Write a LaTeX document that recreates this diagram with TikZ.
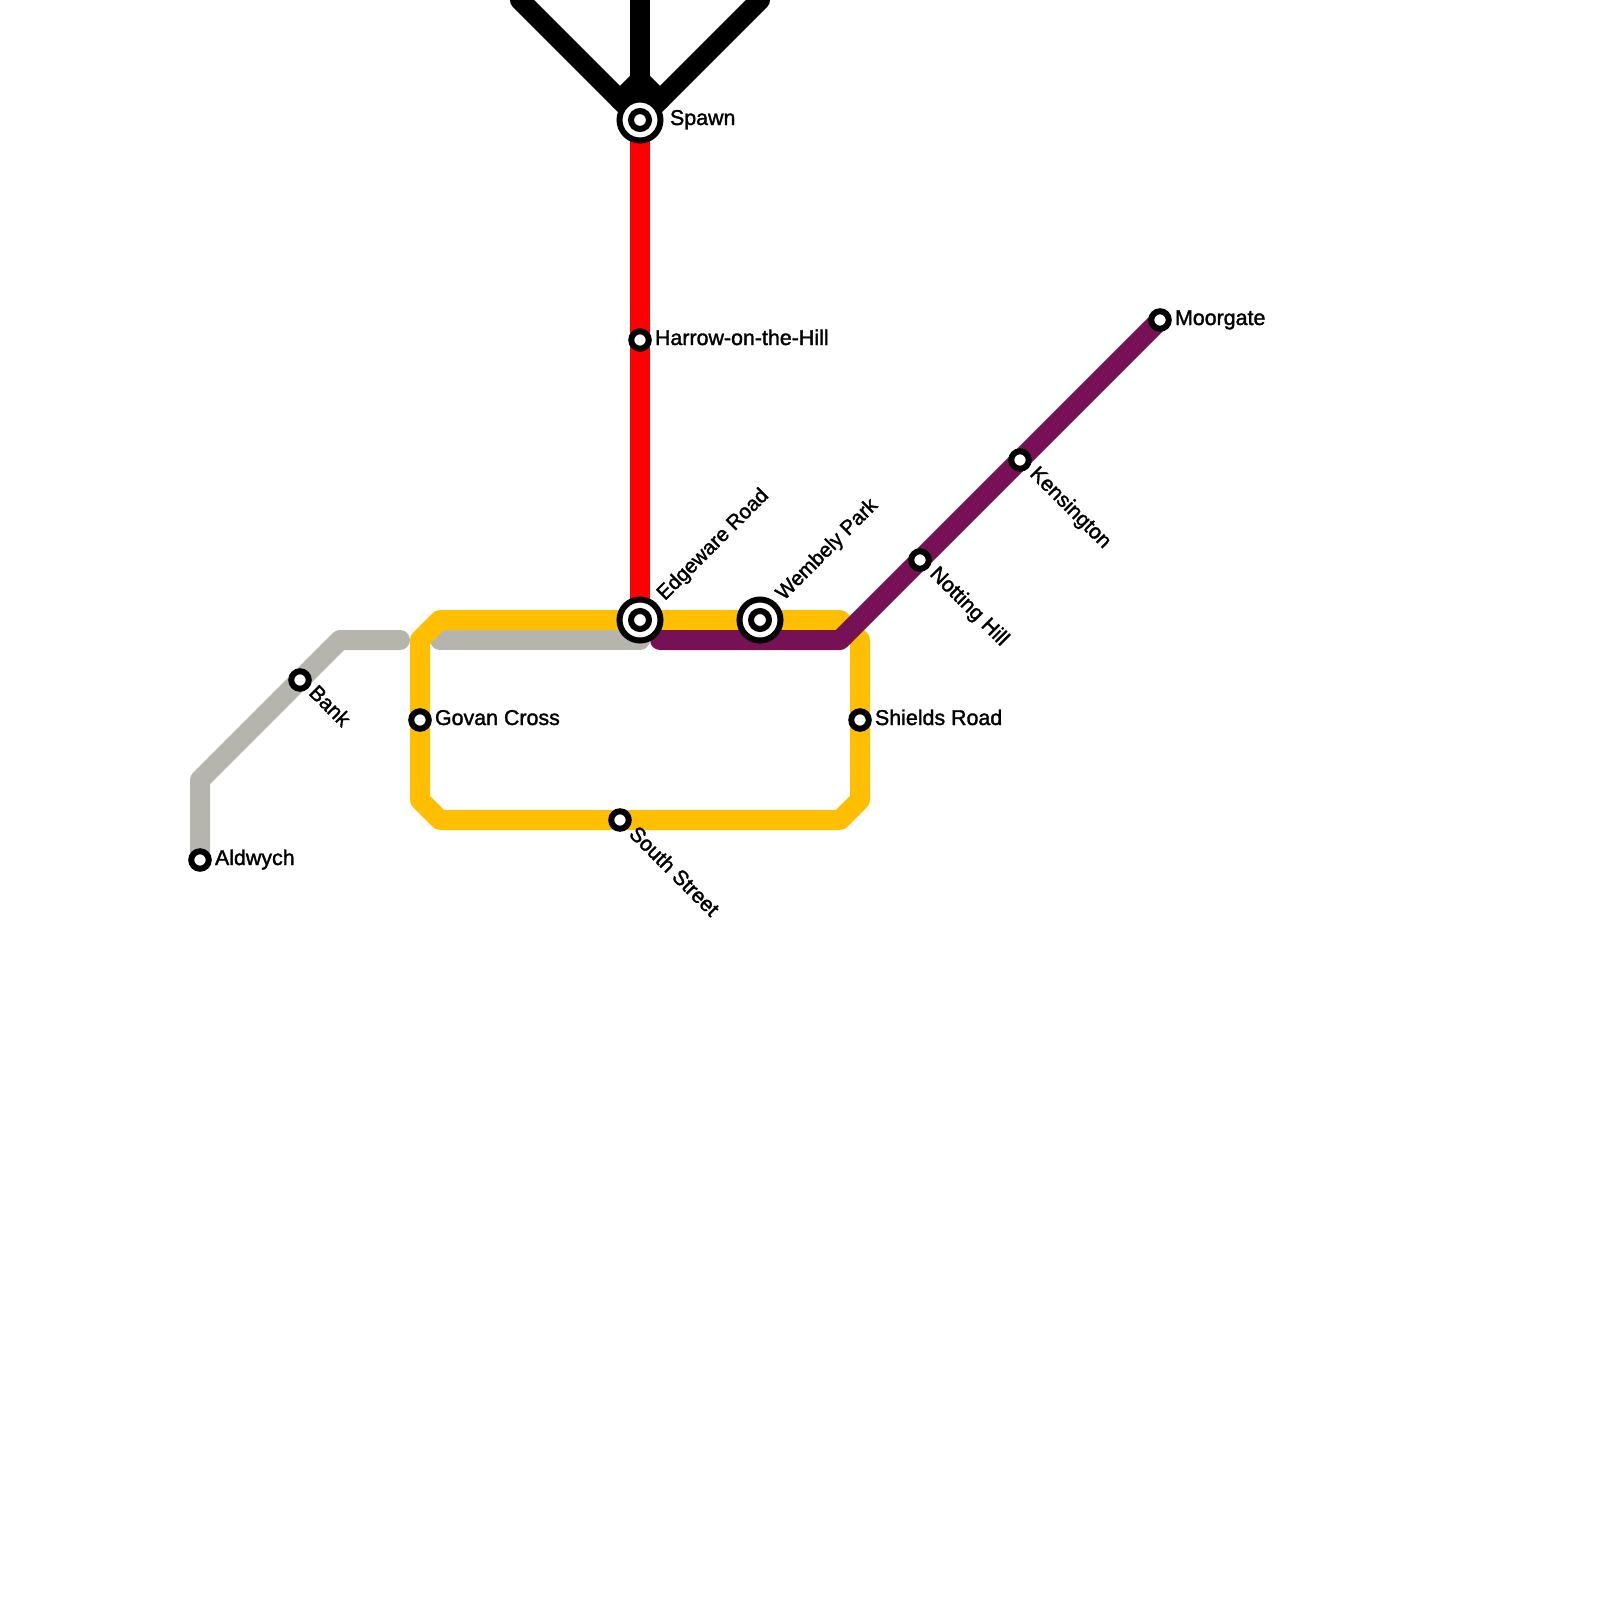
\documentclass[tikz,border=0pt]{standalone}
\usepackage{fontspec}
\setmainfont[FakeBold=1.6]{Liberation Sans}
\definecolor{linegold}{HTML}{FFBE00}
\definecolor{linepurple}{HTML}{771155}
\definecolor{linegrey}{HTML}{B5B5AE}
\definecolor{linered}{HTML}{FF0000}
\tikzset{
  metro/.style={line width=20pt,line join=round,line cap=round},
  stop/.style={circle,draw=black,fill=white,line width=6pt,minimum size=17.5pt,inner sep=0pt,outer sep=0pt},
  hubout/.style={circle,draw=black,fill=white,line width=6pt,minimum size=41pt,inner sep=0pt,outer sep=0pt},
  hubin/.style={circle,draw=black,fill=white,line width=6pt,minimum size=18pt,inner sep=0pt,outer sep=0pt},
  lab/.style={anchor=base west,inner sep=0pt,outer sep=0pt,font=\fontsize{21.4}{21.4}\selectfont,text=black},
  uplab/.style={lab,font=\fontsize{20.6}{20.6}\selectfont},
  downlab/.style={lab,font=\fontsize{21}{21}\selectfont},
}
\begin{document}
\begin{tikzpicture}[x=1pt,y=-1pt]
\useasboundingbox (0,0) rectangle (1600,1600);
\clip (0,0) rectangle (1600,1600);
% route bends
\coordinate (bl) at (520,0);
\coordinate (bm) at (640,0);
\coordinate (br) at (760,0);
\coordinate (bnl) at (620,100);
\coordinate (bnr) at (660,100);
\coordinate (bc) at (640,80);
\coordinate (g1) at (440,620);
\coordinate (g2) at (420,640);
\coordinate (g3) at (420,800);
\coordinate (g4) at (440,820);
\coordinate (g5) at (840,820);
\coordinate (g6) at (860,800);
\coordinate (g7) at (860,640);
\coordinate (g8) at (840,620);
\coordinate (a1) at (200,780);
\coordinate (a2) at (340,640);
\coordinate (a3) at (400,640);
\coordinate (a4) at (440,640);
\coordinate (a5) at (640,640);
\coordinate (p1) at (660,640);
\coordinate (p2) at (840,640);
% stations (positions first; drawn last on top)
\coordinate (spawnC) at (640,120);
\coordinate (edgeC) at (640,620);
\coordinate (moorC) at (1160,320);
\coordinate (aldC) at (200,860);
% lines
\draw[metro,linered] (spawnC) -- (edgeC);
\draw[metro,black] (bl) -- (bnl) -- (spawnC) -- (bnr) -- (br);
\draw[metro,black] (bm) -- (spawnC);
\draw[metro,black] (bnl) -- (bc) -- (bnr);
\draw[metro,linegrey] (aldC) -- (a1) -- (a2) -- (a3);
\draw[metro,linegrey] (a4) -- (a5);
\draw[metro,linegold] (edgeC) -- (g1) -- (g2) -- (g3) -- (g4) -- (g5) -- (g6) -- (g7) -- (g8) -- cycle;
\draw[metro,linepurple] (p1) -- (p2) -- (moorC);
% stations
\node[hubout] (spawn) at (spawnC) {};
\node[hubin] (spawni) at (spawnC) {};
\node[hubout] (edge) at (edgeC) {};
\node[hubin] (edgei) at (edgeC) {};
\node[hubout] (wemb) at (760,620) {};
\node[hubin] (wembi) at (760,620) {};
\node[stop] (harrow) at (640,340) {};
\node[stop] (moor) at (moorC) {};
\node[stop] (kens) at (1020,460) {};
\node[stop] (nott) at (920,560) {};
\node[stop] (shields) at (860,720) {};
\node[stop] (govan) at (420,720) {};
\node[stop] (south) at (620,820) {};
\node[stop] (bank) at (300,680) {};
\node[stop] (ald) at (aldC) {};
% labels
\node[lab] (lspawn) at (670,125) {Spawn};
\node[lab] (lharrow) at (655,345) {Harrow-on-the-Hill};
\node[lab] (lmoor) at (1175,325) {Moorgate};
\node[lab] (lshields) at (875,725) {Shields Road};
\node[lab] (lgovan) at (435,725) {Govan Cross};
\node[lab] (lald) at (215,865) {Aldwych};
\node[uplab,rotate=45] (ledge) at (665,601) {Edgeware Road};
\node[uplab,rotate=45] (lwemb) at (784,601) {Wembely Park};
\node[downlab,rotate=-45] (lkens) at (1029,475) {Kensington};
\node[downlab,rotate=-45] (lnott) at (929,575) {Notting Hill};
\node[downlab,rotate=-45] (lsouth) at (628,835) {South Street};
\node[downlab,rotate=-45] (lbank) at (308,694) {Bank};
\end{tikzpicture}
\end{document}
